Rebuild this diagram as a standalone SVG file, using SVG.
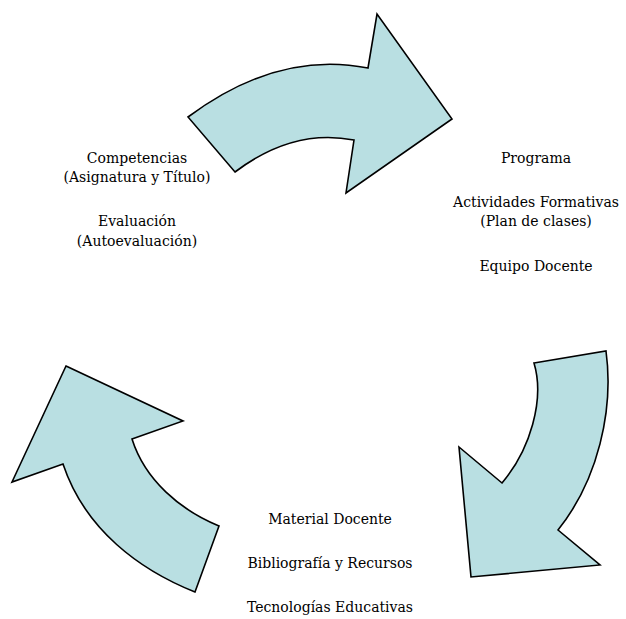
<svg xmlns="http://www.w3.org/2000/svg" width="626" height="619" viewBox="0 0 626 619">
<style>
.arrow{fill:#b9dfe2;stroke:#000;stroke-width:1.6;stroke-linejoin:miter}
.t{font-family:"DejaVu Serif","Liberation Serif",serif;font-size:14px;fill:#000;text-anchor:middle}
</style>
<rect width="626" height="619" fill="#fff"/>
<g id="connectors">
<path id="arrow-top" class="arrow" d="M188,117 Q278,50 368,68 L377,14 L452,119 L346,193 L354,140 Q293,128 235,172 Z"/>
<path id="arrow-right" class="arrow" d="M534,363 L606,351 C614,410 598,480 558,530 L600,565 L471,577 L459,447 L502,483 C530,450 545,400 534,363 Z"/>
<path id="arrow-left" class="arrow" d="M66,366 L183,421 L132,439 C145,480 180,510 219,526 L195,592 C140,570 85,530 63,464 L12,482 Z"/>
</g>
<g id="node-left">
<text class="t" x="137" y="163">Competencias</text>
<text class="t" x="137" y="182">(Asignatura y Título)</text>
<text class="t" x="137" y="226">Evaluación</text>
<text class="t" x="137" y="246">(Autoevaluación)</text>
</g>
<g id="node-right">
<text class="t" x="536" y="163">Programa</text>
<text class="t" x="536" y="207">Actividades Formativas</text>
<text class="t" x="536" y="226">(Plan de clases)</text>
<text class="t" x="536" y="271">Equipo Docente</text>
</g>
<g id="node-bottom">
<text class="t" x="330" y="524">Material Docente</text>
<text class="t" x="330" y="568">Bibliografía y Recursos</text>
<text class="t" x="330" y="612">Tecnologías Educativas</text>
</g>
</svg>
